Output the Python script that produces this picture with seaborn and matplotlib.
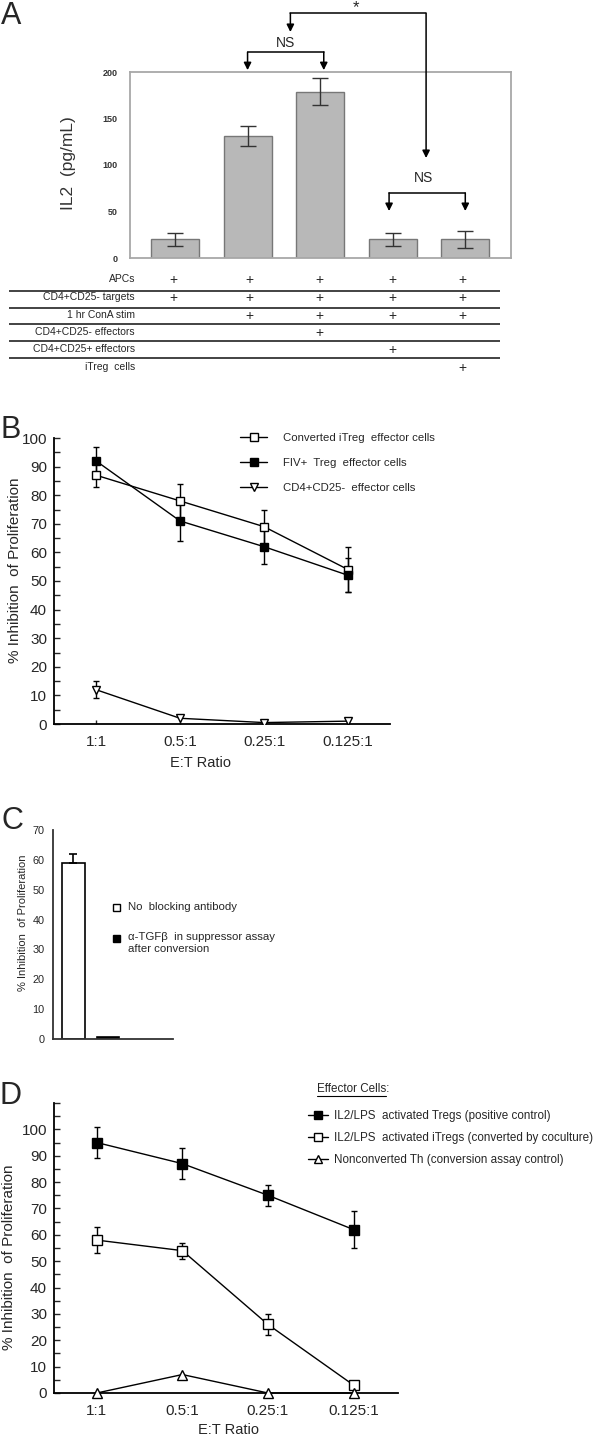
"""
四联图复现：A 为 IL2 柱状图 + 条件表，B/D 为抑制率折线，C 为阻断抗体柱状图
"""
import numpy as np
import matplotlib
matplotlib.use("Agg")
import matplotlib.pyplot as plt
from matplotlib.lines import Line2D
from matplotlib.patches import Rectangle
from matplotlib.ticker import MultipleLocator
import seaborn as sns

W, H = 600, 1437

# A: IL2 分泌
a_groups = ["g1", "g2", "g3", "g4", "g5"]
a_il2 = [20, 131, 179, 20, 20]
a_il2_err = [7, 11, 15, 7, 9]
table_rows = ["APCs", "CD4+CD25- targets", "1 hr ConA stim",
              "CD4+CD25- effectors", "CD4+CD25+ effectors", "iTreg  cells"]
table_marks = [[1, 1, 1, 1, 1],
               [1, 1, 1, 1, 1],
               [0, 1, 1, 1, 1],
               [0, 0, 1, 0, 0],
               [0, 0, 0, 1, 0],
               [0, 0, 0, 0, 1]]

# B / D 共用横轴
et_ratios = ["1:1", "0.5:1", "0.25:1", "0.125:1"]

# B
b_itreg = [87, 78, 69, 54]
b_itreg_err = [4, 6, 6, 8]
b_fiv = [92, 71, 62, 52]
b_fiv_err = [5, 7, 6, 6]
b_cd25 = [12, 2, 0.5, 1]
b_cd25_err = [3, 0, 0, 0]
b_labels = ["Converted iTreg  effector cells", "FIV+  Treg  effector cells",
            "CD4+CD25-  effector cells"]

# C
c_groups = ["No  blocking antibody", "α-TGFβ  in suppressor assay\nafter conversion"]
c_inhib = [59, 0.8]
c_err_up = [3, 0]

# D
d_tregs = [95, 87, 75, 62]
d_tregs_err = [6, 6, 4, 7]
d_itregs = [58, 54, 26, 3]
d_itregs_err = [5, 3, 4, 0]
d_th = [0, 7, 0, 0]
d_labels = ["IL2/LPS  activated Tregs (positive control)",
            "IL2/LPS  activated iTregs (converted by coculture)",
            "Nonconverted Th (conversion assay control)"]

sns.set_style("white")
plt.rcParams['font.family'] = ['Liberation Sans', 'DejaVu Sans']

fig = plt.figure(figsize=(W / 100, H / 100), dpi=100)


def px_axes(left, top, right, bottom):
    ax = fig.add_axes([left / W, 1 - bottom / H, (right - left) / W, (bottom - top) / H])
    ax.patch.set_alpha(0)
    return ax


# 全图像素坐标叠加层，放字母、表格和手绘图例（放在最上层，透明）
ov = fig.add_axes([0, 0, 1, 1])
ov.set_xlim(0, W)
ov.set_ylim(H, 0)
ov.axis('off')
ov.set_zorder(10)


def errbars(ax, xs, vals, errs, **kw):
    idx = [i for i, e in enumerate(errs) if e > 0]
    if idx:
        ax.errorbar([xs[i] for i in idx], [vals[i] for i in idx],
                    yerr=[errs[i] for i in idx], fmt='none', ecolor='black',
                    elinewidth=1, capthick=1, zorder=2, **kw)


def bracket(ax, x1, x2, y, tip1, tip2):
    ax.plot([x1, x2], [y, y], color='black', lw=1.1, clip_on=False)
    for x, tip in ((x1, tip1), (x2, tip2)):
        ax.annotate('', xy=(x, tip), xytext=(x, y), annotation_clip=False,
                    arrowprops=dict(arrowstyle='-|>', color='black', lw=1.1,
                                    mutation_scale=11, shrinkA=0, shrinkB=0))


# ---------- A ----------
axA = px_axes(130, 72, 511, 258)
sns.barplot(x=a_groups, y=a_il2, color="#b8b8b8", saturation=1, edgecolor="#777777",
            linewidth=1, width=0.66, errorbar=None, ax=axA)
axA.errorbar(np.arange(len(a_il2)), a_il2, yerr=a_il2_err, fmt='none', ecolor='#333333',
             elinewidth=1, capsize=6, capthick=1)
axA.set_xlim(-0.62, 4.63)
axA.set_ylim(0, 200)
axA.set_yticks([0, 50, 100, 150, 200])
axA.set_xticks([])
axA.tick_params(axis='y', length=0, pad=9, labelsize=6.5, labelcolor='#333333')
for t in axA.get_yticklabels():
    t.set_fontweight('bold')
for s in axA.spines.values():
    s.set_color('#a8a8a8')
    s.set_linewidth(1.3)
axA.set_ylabel("IL2  (pg/mL)", fontsize=12.5, color='#333333')
axA.yaxis.set_label_coords((69 - 130) / 381, (258 - 163) / 186)
axA.yaxis.label.set_va('center')

bracket(axA, 1.0, 2.05, 221.5, 202, 202)
axA.text(1.52, 231, "NS", ha='center', va='center', fontsize=10)
bracket(axA, 1.59, 3.46, 263, 243, 107.5)
axA.text(2.5, 269, "*", ha='center', va='center', fontsize=12)
bracket(axA, 2.95, 4.0, 70, 50.5, 50.5)
axA.text(3.42, 86, "NS", ha='center', va='center', fontsize=10)

# 条件表
col_x = [173, 249, 319, 392, 462]
row_y = [279, 297, 315, 332, 349, 367]
ov.hlines([291, 308, 324, 341, 358], 9, 500, color='#222222', lw=1.2)
for label, marks, y in zip(table_rows, table_marks, row_y):
    ov.text(135, y, label, ha='right', va='center', fontsize=7.5)
    for m, x in zip(marks, col_x):
        if m:
            ov.text(x, y + 1, "+", ha='center', va='center', fontsize=10)

# ---------- B ----------
xs = np.arange(len(et_ratios))
axB = px_axes(54, 438, 390, 724)
errbars(axB, xs, b_itreg, b_itreg_err, capsize=2.5)
errbars(axB, xs, b_fiv, b_fiv_err, capsize=2.5)
errbars(axB, xs, b_cd25, b_cd25_err, capsize=2.5)
for vals, mk, fc in ((b_itreg, 's', 'white'), (b_fiv, 's', 'black'), (b_cd25, 'v', 'white')):
    sns.lineplot(x=xs, y=vals, ax=axB, color='black', lw=1, marker=mk, markersize=6,
                 markerfacecolor=fc, markeredgecolor='black', markeredgewidth=1, zorder=3)
axB.set_xlim(-0.5, 3.5)
axB.set_ylim(0, 100)
axB.set_yticks(np.arange(0, 101, 10))
axB.yaxis.set_minor_locator(MultipleLocator(5))
axB.set_xticks(xs)
axB.set_xticklabels(et_ratios)
axB.tick_params(axis='y', which='both', direction='in', length=4, width=1, labelsize=11, pad=5, left=True)
axB.tick_params(axis='x', direction='in', length=3, width=1, labelsize=11, pad=8, bottom=True)
sns.despine(ax=axB)
for s in ('left', 'bottom'):
    axB.spines[s].set_linewidth(1.3)
    axB.spines[s].set_color('black')
axB.set_xlabel("E:T Ratio", fontsize=10.5)
axB.xaxis.set_label_coords((201 - 54) / 336, (724 - 763) / 286)
axB.xaxis.label.set_va('center')
axB.set_ylabel("% Inhibition  of Proliferation", fontsize=11)
axB.yaxis.set_label_coords((15 - 54) / 336, (724 - 570) / 286)
axB.yaxis.label.set_va('center')
b_handles = [Line2D([], [], color='black', lw=1, marker=m, ms=6, mfc=fc, mec='black')
             for m, fc in (('s', 'white'), ('s', 'black'), ('v', 'white'))]
axB.legend(b_handles, b_labels, loc='upper left', bbox_to_anchor=(240 / W, 1 - 433 / H),
           bbox_transform=fig.transFigure, frameon=False, fontsize=8.2, handlelength=2.4,
           handletextpad=1.35, labelspacing=1.3, borderpad=0, borderaxespad=0)

# ---------- C ----------
axC = px_axes(53, 830, 173, 1039)
sns.barplot(x=c_groups, y=c_inhib, hue=c_groups, palette=['white', 'black'], legend=False,
            saturation=1, edgecolor='black', linewidth=1.2, width=0.65, errorbar=None, ax=axC)
axC.errorbar([0], [c_inhib[0]], yerr=[[0], [c_err_up[0]]], fmt='none', ecolor='black',
             elinewidth=1.2, capsize=3.2, capthick=1.2)
axC.set_xlim(-0.59, 2.88)
axC.set_ylim(0, 70)
axC.set_yticks(np.arange(0, 71, 10))
axC.set_xticks([])
axC.set_xlabel("")
axC.tick_params(axis='y', length=0, pad=6, labelsize=7.8)
sns.despine(ax=axC)
for s in ('left', 'bottom'):
    axC.spines[s].set_linewidth(1.3)
    axC.spines[s].set_color('#333333')
axC.set_ylabel("% Inhibition  of Proliferation", fontsize=8)
axC.yaxis.set_label_coords((23 - 53) / 120, (1039 - 923) / 209)
axC.yaxis.label.set_va('center')
# C 的图例：方块 + 文字（第二条为两行，顶部对齐第一行）
for (fc, y), label in zip((('white', 907), ('black', 938)), c_groups):
    ov.add_patch(Rectangle((113, y - 3.5), 7, 7, facecolor=fc, edgecolor='black', lw=1))
    if '\n' in label:
        ov.text(128, y - 6, label, ha='left', va='top', fontsize=8.2, linespacing=1.3)
    else:
        ov.text(128, y, label, ha='left', va='center', fontsize=8.2)

# ---------- D ----------
axD = px_axes(54, 1103, 398, 1393)
errbars(axD, xs, d_tregs, d_tregs_err, capsize=2.5)
errbars(axD, xs, d_itregs, d_itregs_err, capsize=2.5)
for vals, mk, fc in ((d_tregs, 's', 'black'), (d_itregs, 's', 'white'), (d_th, '^', 'white')):
    sns.lineplot(x=xs, y=vals, ax=axD, color='black', lw=1, marker=mk, markersize=6.5,
                 markerfacecolor=fc, markeredgecolor='black', markeredgewidth=1, zorder=3,
                 clip_on=False)
axD.set_xlim(-0.5, 3.52)
axD.set_ylim(0, 110)
axD.set_yticks(np.arange(0, 101, 10))
axD.yaxis.set_minor_locator(MultipleLocator(5))
axD.set_xticks(xs)
axD.set_xticklabels(et_ratios)
axD.tick_params(axis='y', which='both', direction='in', length=4, width=1, labelsize=11, pad=5, left=True)
axD.tick_params(axis='x', length=0, labelsize=11, pad=8)
sns.despine(ax=axD)
for s in ('left', 'bottom'):
    axD.spines[s].set_linewidth(1.3)
    axD.spines[s].set_color('black')
axD.set_xlabel("E:T Ratio", fontsize=10.5)
axD.xaxis.set_label_coords((229 - 54) / 344, (1393 - 1430) / 290)
axD.xaxis.label.set_va('center')
axD.set_ylabel("% Inhibition  of Proliferation", fontsize=11)
axD.yaxis.set_label_coords((9 - 54) / 344, (1393 - 1257) / 290)
axD.yaxis.label.set_va('center')
d_handles = [Line2D([], [], color='black', lw=1, marker=m, ms=6, mfc=fc, mec='black')
             for m, fc in (('s', 'black'), ('s', 'white'), ('^', 'white'))]
axD.legend(d_handles, d_labels, loc='upper left', bbox_to_anchor=(308 / W, 1 - 1110 / H),
           bbox_transform=fig.transFigure, frameon=False, fontsize=8.4, handlelength=1.7,
           handletextpad=0.55, labelspacing=0.85, borderpad=0, borderaxespad=0)
ov.text(317, 1089, "Effector Cells:", ha='left', va='center', fontsize=8.4)
ov.plot([317, 386], [1096, 1096], color='black', lw=0.8)

# 面板字母
for letter, x, y in (("A", 11, 16), ("B", 11, 430), ("C", 12, 821), ("D", 10, 1096)):
    ov.text(x, y, letter, ha='center', va='center', fontsize=22)

fig.savefig("out.png", dpi=100)
plt.close(fig)
